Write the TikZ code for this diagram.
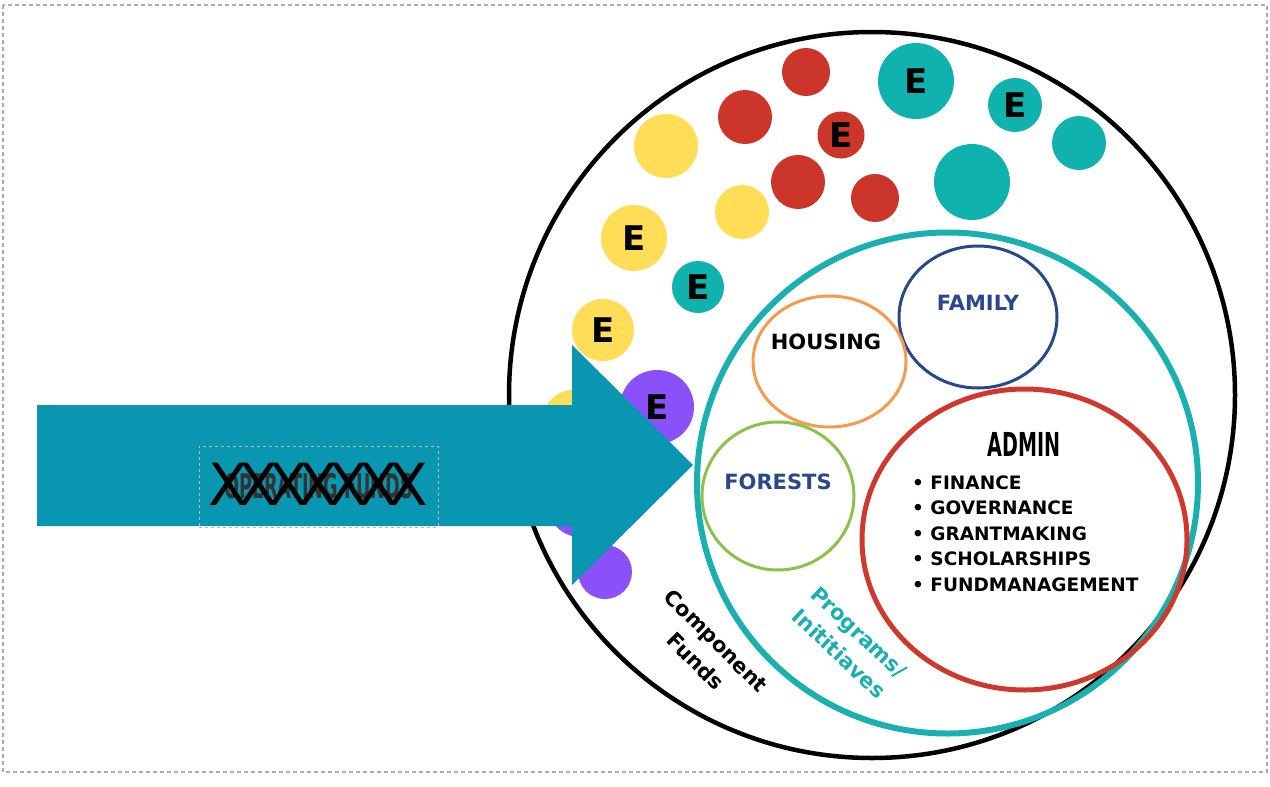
\documentclass[tikz,border=0pt]{standalone}
\usepackage{fontspec}
\setmainfont{DejaVu Sans}
\usepackage{xcolor}
\usetikzlibrary{shapes.geometric,positioning}

\definecolor{flowblue}{RGB}{8,150,176}
\definecolor{sun}{RGB}{255,221,87}
\definecolor{brick}{RGB}{204,53,41}
\definecolor{lagoon}{RGB}{16,178,174}
\definecolor{grape}{RGB}{138,80,250}
\definecolor{progteal}{RGB}{26,176,176}
\definecolor{famnavy}{RGB}{41,72,140}
\definecolor{peach}{RGB}{247,154,79}
\definecolor{leaf}{RGB}{139,195,74}
\definecolor{adminred}{RGB}{208,56,43}

\newcommand{\fsz}[2]{\fontsize{#1}{#2}\selectfont}

\begin{document}
\begin{tikzpicture}[
    x=1pt, y=-1pt,
    bubble/.style={circle, fill=#1, inner sep=0pt, font=\fsz{34}{34}\bfseries},
    ring/.style={ellipse, draw=#1, inner sep=0pt},
    lbl/.style={font=\fsz{21}{21}\bfseries, text=#1, inner sep=0pt},
    lbl/.default=black,
    item/.style={font=\fsz{18.5}{18.5}\bfseries, anchor=base west, inner sep=0pt},
    tilted/.style={font=\fsz{21}{29}\bfseries, align=center, text=#1, inner sep=0pt},
  ]
    \useasboundingbox (0,0) rectangle (1270,787);
    \draw[gray!65, line width=1.2, dash pattern=on 4 off 3] (3,5) rectangle (1267,772);

    % --- Component funds ---
    \node[circle, draw=black, line width=4.5, minimum size=726, inner sep=0pt] (funds) at (872,395) {};

    \node[bubble=brick, minimum size=48] (r1) at (806,72)  {};
    \node[bubble=brick, minimum size=54] (r2) at (745,117) {};
    \node[bubble=brick, minimum size=47] (r3) at (841,135) {E};
    \node[bubble=brick, minimum size=54] (r4) at (798,182) {};
    \node[bubble=brick, minimum size=48] (r5) at (875,198) {};

    \node[bubble=sun, minimum size=64] (y1) at (666,146) {};
    \node[bubble=sun, minimum size=54] (y2) at (742,212) {};
    \node[bubble=sun, minimum size=66] (y3) at (634,238) {E};
    \node[bubble=sun, minimum size=62] (y4) at (603,330) {E};
    \node[bubble=sun, minimum size=60] (y5) at (573,420) {};

    \node[bubble=lagoon, minimum size=76] (t1) at (916,81)  {E};
    \node[bubble=lagoon, minimum size=54] (t2) at (1015,105) {E};
    \node[bubble=lagoon, minimum size=54] (t3) at (1079,143) {};
    \node[bubble=lagoon, minimum size=76] (t4) at (972,182) {};
    \node[bubble=lagoon, minimum size=52] (t5) at (698,287) {E};

    \node[bubble=grape, minimum size=74] (p1) at (657,407) {E};
    \node[bubble=grape, minimum size=64] (p2) at (580,505) {};
    \node[bubble=grape, minimum size=54] (p3) at (605,572) {};

    % --- Programs / initiatives ---
    \node[circle, draw=progteal, line width=6, minimum size=501, inner sep=0pt] (prog) at (947.5,483) {};

    \node[ring=famnavy, line width=3, minimum width=158, minimum height=142] (family)  at (978,317)  {};
    \node[ring=peach,   line width=3, minimum width=153, minimum height=131] (housing) at (829.5,361.5) {};
    \node[ring=leaf,    line width=3, minimum width=152, minimum height=148] (forests) at (778,496)  {};
    \node[ring=adminred, line width=5, minimum width=325, minimum height=301] (admin) at (1024.5,539.5) {};

    \node[lbl=famnavy] (famtxt)  at (978,303) {FAMILY};
    \node[lbl]         (houstxt) at (826,342) {HOUSING};
    \node[lbl=famnavy] (fortxt)  at (778,482) {FORESTS};

    % --- Admin list ---
    \node[inner sep=0pt] (admtxt) at (1024,444) {\scalebox{0.58}[1]{\fsz{33}{33}\bfseries ADMIN}};
    \foreach \t [count=\i] in {FINANCE,GOVERNANCE,GRANTMAKING,SCHOLARSHIPS,FUNDMANAGEMENT}
      \node[item] (adm\i) at (912,{489+25.5*(\i-1)}) {• \t};

    % --- Ring labels ---
    \node[tilted=black, rotate=-45]    (comptxt) at (706,651) {Component\\Funds};
    \node[tilted=progteal, rotate=-43] (progtxt) at (849,643) {Programs/\\Inititiaves};

    % --- Operating funds arrow ---
    \fill[flowblue] (37,405) -- (572,405) -- (572,345) -- (693,465)
                    -- (572,585) -- (572,526) -- (37,526) -- cycle;
    \node[draw=gray!55, dashed, line width=0.8, minimum width=239, minimum height=81, inner sep=0pt]
         (opbox) at (318.5,486.5) {};
    \node[text=black!80, inner sep=0pt] (optxt) at (opbox) {\scalebox{0.52}[1]{\fsz{34}{34}\bfseries OPERATING FUNDS}};
    \foreach \k in {0,...,6}
      \node[font=\fsz{58}{58}, inner sep=0pt] (cross\k) at ({228+30*\k},484) {X};
\end{tikzpicture}
\end{document}
